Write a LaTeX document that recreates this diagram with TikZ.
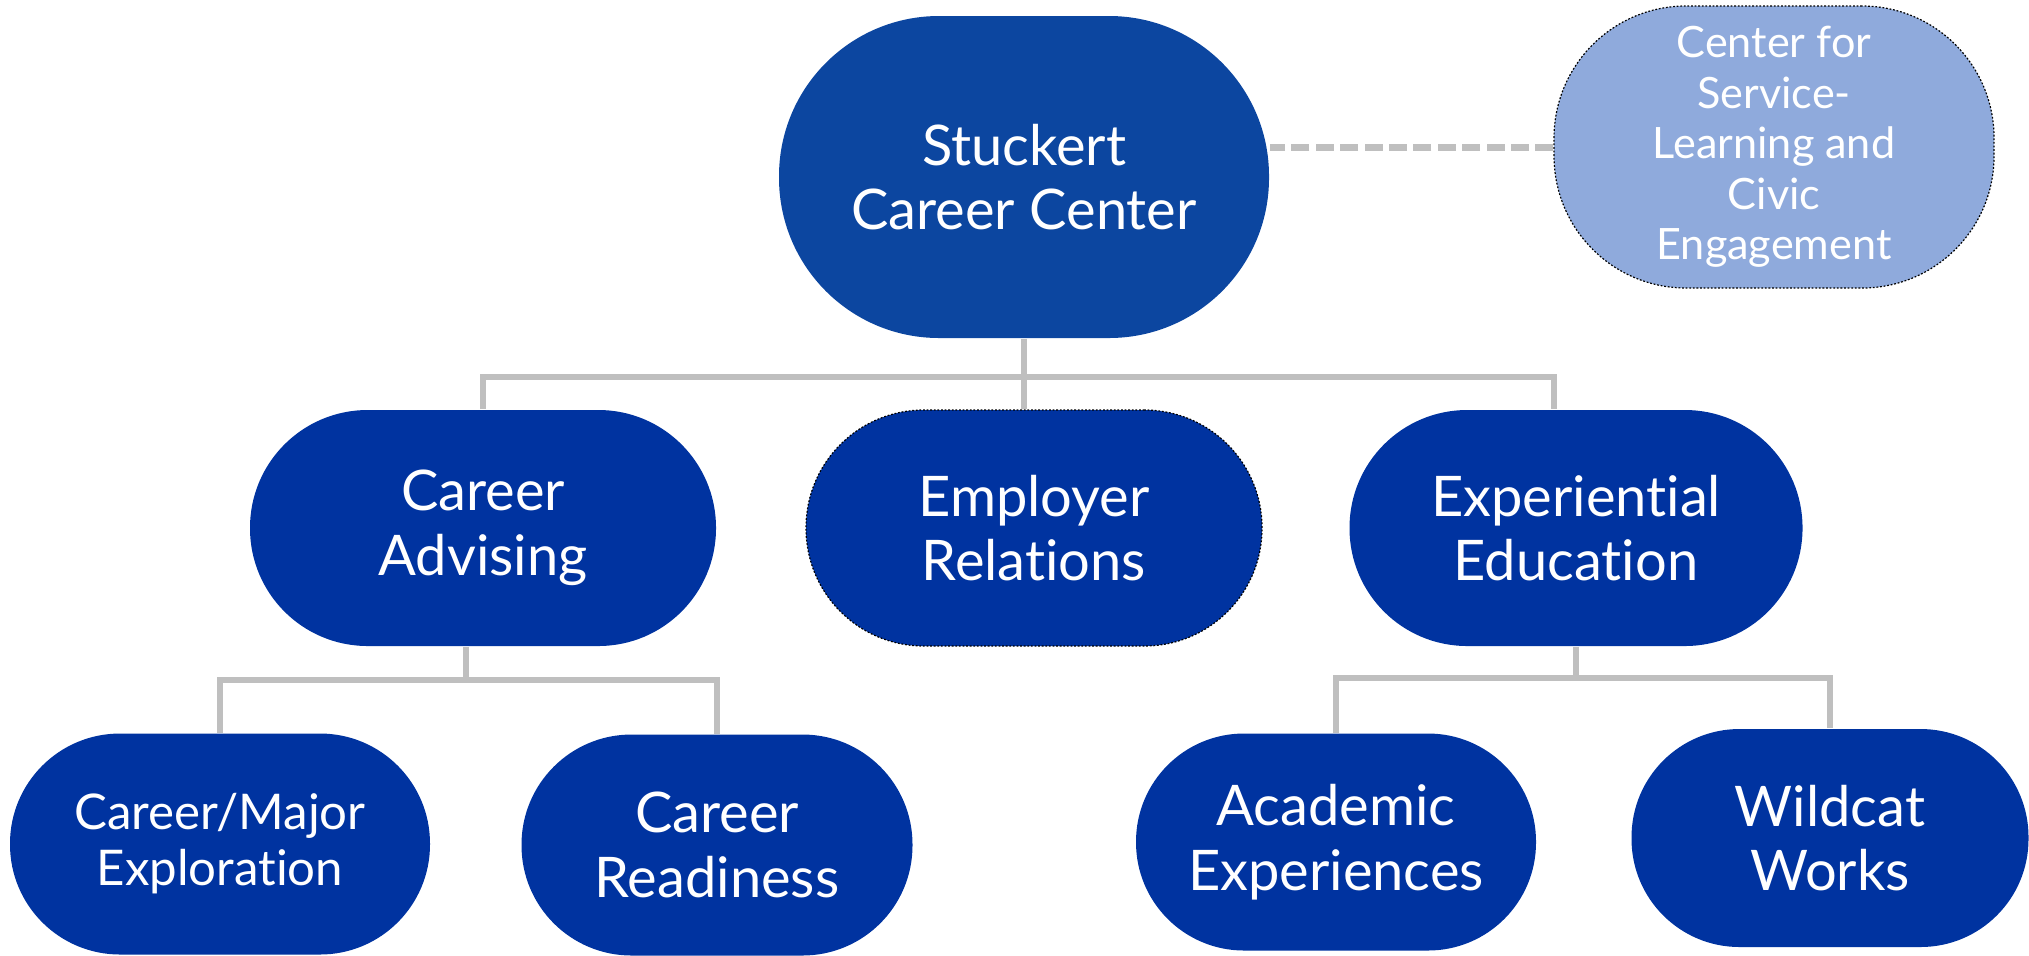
\documentclass[tikz,border=0pt]{standalone}
\usepackage{fontspec}
\setmainfont{Lato}[Ligatures={NoCommon}]
\usetikzlibrary{positioning}

\definecolor{topblue}{HTML}{0C46A0}
\definecolor{unitblue}{HTML}{0033A0}
\definecolor{partnerblue}{HTML}{8FAADC}
\definecolor{linkgray}{HTML}{BFBFBF}

\tikzset{
  unit/.style={fill=unitblue, text=white, align=center, inner sep=0pt,
    font=\fontsize{14}{16.2}\selectfont},
  dottedrim/.style={draw=black, line width=0.3pt, dash pattern=on 0.45pt off 0.45pt},
  link/.style={draw=linkgray, line width=1.5pt},
  partnerlink/.style={draw=linkgray, line width=1.75pt, dash pattern=on 4.5pt off 1.6pt}
}

\begin{document}
\begin{tikzpicture}[x=0.25pt, y=-0.25pt, on grid]
    \useasboundingbox (0,0) rectangle (2029,955);

    % top level
    \node[unit, fill=topblue, minimum width=122.5pt, minimum height=80.5pt,
          rounded corners=40pt] (stuckert) at (1024,177) {Stuckert\\Career Center};
    \node[unit, fill=partnerblue, dottedrim, minimum width=110pt, minimum height=70.5pt,
          rounded corners=33pt, font=\fontsize{10.8}{12.6}\selectfont]
          (partner) [above right=7.5pt and 187.5pt of stuckert]
          {Center for\\Service-\\Learning and\\Civic\\Engagement};

    % second level
    \node[unit, minimum width=116.5pt, minimum height=59pt, rounded corners=29.4pt]
          (advising) [below left=87.75pt and 135.25pt of stuckert] {Career\\Advising};
    \node[unit, dottedrim, minimum width=114pt, minimum height=59pt, rounded corners=29.4pt]
          (employer) [below right=87.75pt and 2.5pt of stuckert] {Employer\\Relations};
    \node[unit, minimum width=113.25pt, minimum height=59pt, rounded corners=29.4pt]
          (experiential) [below right=87.75pt and 138pt of stuckert] {Experiential\\Education};

    % third level
    \node[unit, minimum width=105pt, minimum height=55.25pt, rounded corners=27.5pt,
          font=\fontsize{12.3}{14}\selectfont]
          (exploration) [below left=79pt and 65.75pt of advising] {Career/Major\\Exploration};
    \node[unit, minimum width=97.75pt, minimum height=55.25pt, rounded corners=27.5pt]
          (readiness) [below right=79.25pt and 58.5pt of advising] {Career\\Readiness};
    \node[unit, minimum width=100pt, minimum height=54.25pt, rounded corners=27pt]
          (academic) [below left=78.5pt and 60pt of experiential] {Academic\\Experiences};
    \node[unit, minimum width=99.25pt, minimum height=54.5pt, rounded corners=27pt]
          (wildcat) [below right=77.5pt and 63.5pt of experiential] {Wildcat\\Works};

    % connectors
    \draw[partnerlink] (partner.west) -- (partner.west -| stuckert.east);
    \draw[link] (stuckert.south) -- (stuckert.south |- employer.north);
    \path (stuckert.south) ++(0,38) coordinate (topbus);
    \draw[link] (advising.north) |- (topbus) -| ([xshift=-5.5pt]experiential.north);

    \draw[link] ([xshift=-4.25pt]advising.south) -- ++(0,33) coordinate (advbus);
    \draw[link] (exploration.north) |- (advbus) -| (readiness.north);

    \draw[link] (experiential.south) -- ++(0,31) coordinate (expbus);
    \draw[link] (academic.north) |- (expbus) -| (wildcat.north);
\end{tikzpicture}
\end{document}
